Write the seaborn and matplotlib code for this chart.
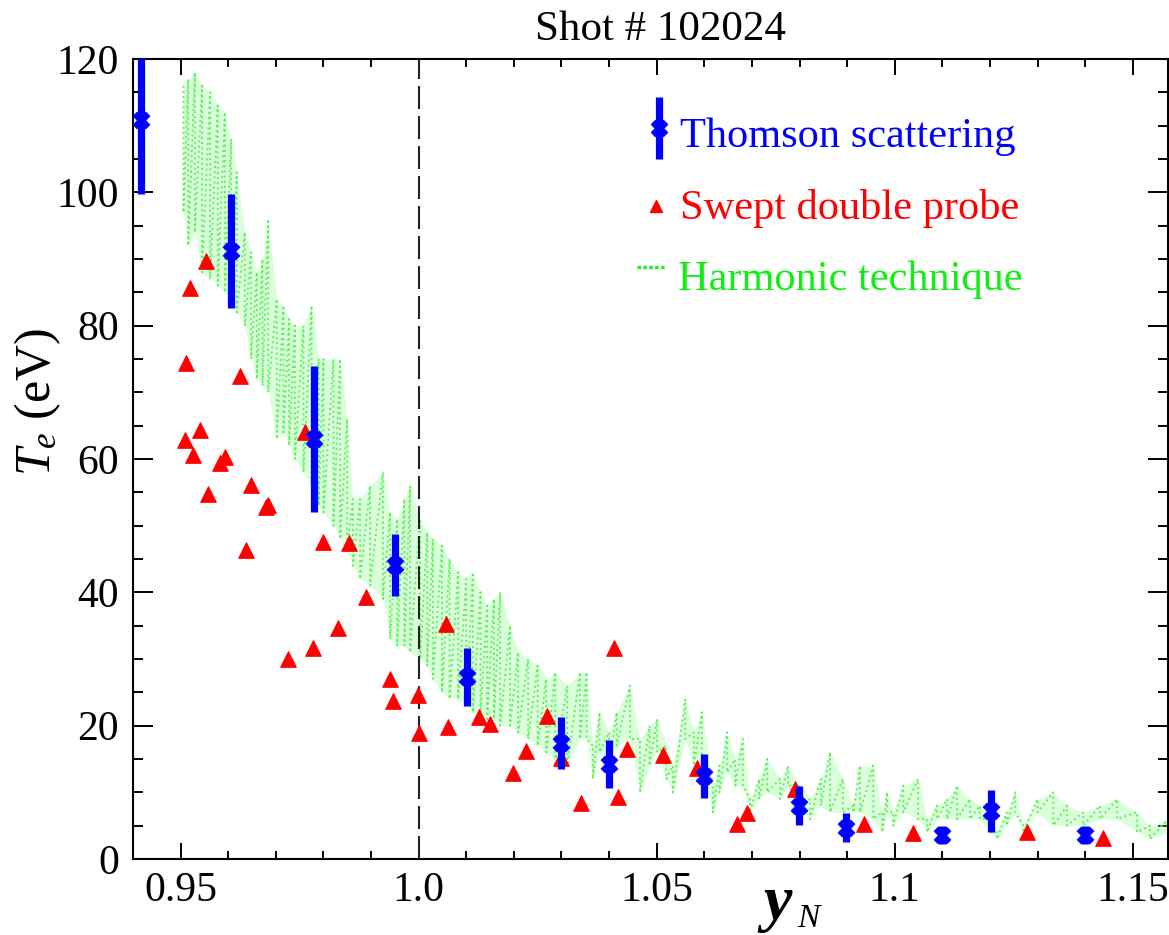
import numpy as np
import matplotlib
matplotlib.use("Agg")
import matplotlib.pyplot as plt
import seaborn as sns
from matplotlib.ticker import MultipleLocator, FixedLocator, FixedFormatter

# ---------------- data ----------------
# Thomson scattering
ts_x = [0.9417, 0.9606, 0.9780, 0.9950, 1.0102, 1.0300, 1.0400, 1.0600,
        1.0799, 1.0897, 1.1100, 1.1202, 1.1400]
ts_y = [110.9, 91.2, 63.0, 44.1, 27.3, 17.4, 14.2, 12.4, 8.0, 4.7, 3.6, 7.2, 3.6]
ts_err = [11.2, 8.6, 11.0, 4.7, 4.3, 3.9, 3.6, 3.3, 2.9, 2.2, 1.3, 3.1, 1.4]

# Swept double probe
sdp_x = [0.9509, 0.9511, 0.9520, 0.9526, 0.9541, 0.9553, 0.9558, 0.9583, 0.9593,
         0.9625, 0.9637, 0.9648, 0.9679, 0.9684, 0.9726, 0.9761, 0.9778, 0.9799,
         0.9831, 0.9854, 0.9889, 0.9940, 0.9946, 0.9999, 1.0001, 1.0058, 1.0062,
         1.0127, 1.0150, 1.0198, 1.0226, 1.0269, 1.0299, 1.0341, 1.0411, 1.0419,
         1.0438, 1.0513, 1.0585, 1.0669, 1.0690, 1.0791, 1.0936, 1.1039, 1.1278,
         1.1438]
sdp_y = [62.8, 74.4, 85.6, 60.6, 64.3, 89.7, 54.7, 59.4, 60.3,
         72.4, 46.3, 56.1, 52.8, 53.1, 30.0, 64.0, 31.6, 47.5,
         34.7, 47.4, 39.3, 27.0, 23.7, 24.6, 18.9, 35.2, 19.8,
         21.3, 20.2, 12.9, 16.2, 21.4, 15.1, 8.4, 31.6, 9.3,
         16.5, 15.6, 13.6, 5.2, 6.9, 10.5, 5.25, 3.9, 4.05,
         3.15]

# Harmonic technique: trace read as upper / lower excursions at positions
harm_x = [0.9506, 0.9516, 0.9530, 0.9545, 0.9562, 0.9578, 0.9593, 0.9606, 0.9618,
          0.9635, 0.9648, 0.9660, 0.9672, 0.9684, 0.9702, 0.9716, 0.9728, 0.9740,
          0.9758, 0.9775, 0.9790, 0.9800, 0.9821, 0.9835, 0.9850, 0.9862, 0.9877,
          0.9898, 0.9925, 0.9940, 0.9955, 0.9970, 0.9982, 1.0003, 1.0018, 1.0030,
          1.0049, 1.0065, 1.0083, 1.0100, 1.0114, 1.0130, 1.0144, 1.0158, 1.0171,
          1.0192, 1.0209, 1.0230, 1.0250, 1.0268, 1.0287, 1.0312, 1.0339, 1.0353,
          1.0366, 1.0380, 1.0400, 1.0416, 1.0444, 1.0465, 1.0485, 1.0501, 1.0520,
          1.0534, 1.0560, 1.0578, 1.0595, 1.0618, 1.0632, 1.0648, 1.0665, 1.0681,
          1.0696, 1.0715, 1.0732, 1.0759, 1.0776, 1.0800, 1.0822, 1.0845, 1.0864,
          1.0891, 1.0913, 1.0927, 1.0955, 1.0974, 1.0984, 1.0997, 1.1018, 1.1049,
          1.1068, 1.1089, 1.1110, 1.1131, 1.1158, 1.1179, 1.1200, 1.1215, 1.1235,
          1.1253, 1.1270, 1.1300, 1.1333, 1.1362, 1.1396, 1.1431, 1.1467, 1.1509,
          1.1536, 1.1574]
harm_hi = [116, 117, 118, 116, 115, 113, 112, 108, 103,
           94, 91, 88, 90, 96, 84, 83, 81, 80,
           80, 83, 75, 75, 75, 75, 66, 54, 54,
           56, 58, 52, 51, 54, 56, 51, 49, 48,
           47, 45, 43, 42, 43, 40, 38, 39, 40,
           35, 31, 30, 29, 27, 28, 26, 28, 28,
           17, 22, 19, 22, 26, 18, 20, 21, 17,
           14, 24, 19, 22, 11, 14, 19, 15, 18,
           9, 12, 15, 12, 14, 11, 9, 12, 16,
           12, 8, 14, 14, 7, 10, 7, 11, 12,
           6, 8, 9, 11, 9, 8, 6, 4, 7,
           10, 5, 9, 10, 8, 7, 8, 9, 7,
           5, 6]
harm_lo = [97, 92, 94, 88, 87, 86, 85, 84, 82,
           80, 75, 72, 71, 70, 63, 64, 62, 60,
           58, 56, 53, 52, 50, 48, 46, 44, 42,
           41, 39, 33, 32, 32, 31, 30, 29, 27,
           25, 24, 24, 23, 22, 22, 21, 21, 20,
           20, 19, 18, 17, 16, 15, 14, 18, 18,
           12, 16, 14, 17, 18, 10, 14, 16, 12,
           10, 18, 14, 15, 7, 10, 13, 11, 11,
           7, 9, 10, 9, 11, 8, 6, 8, 7,
           7, 7, 7, 6, 4, 7, 5, 7, 6,
           4, 6, 6, 6, 6, 6, 4, 3, 5,
           7, 4, 7, 5, 5, 5, 6, 6, 4,
           3, 4]

x_ticks = [0.95, 1.0, 1.05, 1.1, 1.15]
x_tick_labels = ["0.95", "1.0", "1.05", "1.1", "1.15"]
y_ticks = [0, 20, 40, 60, 80, 100, 120]
title_text = "Shot # 102024"
legend_labels = ["Thomson scattering", "Swept double probe", "Harmonic technique"]

# ---------------- style ----------------
sns.set_theme(style="ticks")
plt.rcParams["font.family"] = ["Liberation Serif", "DejaVu Serif"]
plt.rcParams["mathtext.fontset"] = "custom"
plt.rcParams["mathtext.rm"] = "Liberation Serif"
plt.rcParams["mathtext.it"] = "Liberation Serif:italic"
plt.rcParams["mathtext.bf"] = "Liberation Serif:bold"

W, H = 1169, 935
fig = plt.figure(figsize=(W / 100, H / 100), dpi=100)
fig.patch.set_facecolor("white")
ax = fig.add_axes([133 / W, (H - 859) / H, 1035 / W, 800 / H])
ax.set_facecolor("white")

# harmonic technique band + dotted trace
ax.fill_between(harm_x, harm_lo, harm_hi, color="#8cff8c", alpha=0.32, lw=0, zorder=1)
zig_x = np.repeat(harm_x, 2)
zig_y = np.column_stack([harm_hi, harm_lo]).ravel()
sns.lineplot(x=zig_x, y=zig_y, sort=False, estimator=None, color="#5af05a",
             lw=1.4, linestyle=":", ax=ax, zorder=2)

# separatrix
ax.axvline(1.0, color="#222222", lw=1.5, dashes=(11, 3.4), zorder=3)

# swept double probe
sns.scatterplot(x=sdp_x, y=sdp_y, marker="^", s=125, color="red",
                edgecolor="red", linewidth=0.8, ax=ax, zorder=4)

# Thomson scattering
ax.errorbar(ts_x, ts_y, yerr=ts_err, fmt="none", ecolor="blue", elinewidth=5.2,
            capsize=0, zorder=5)
sns.scatterplot(x=ts_x, y=ts_y, marker="X", s=150, color="blue",
                edgecolor="blue", linewidth=0.5, ax=ax, zorder=6)

# axes
ax.set_xlim(0.94, 1.1574)
ax.set_ylim(0, 120)
ax.xaxis.set_major_locator(FixedLocator(x_ticks))
ax.xaxis.set_major_formatter(FixedFormatter(x_tick_labels))
ax.xaxis.set_minor_locator(MultipleLocator(0.01))
ax.yaxis.set_major_locator(FixedLocator(y_ticks))
ax.yaxis.set_minor_locator(MultipleLocator(5))
ax.tick_params(which="both", direction="in", top=True, right=True, width=1.4,
               color="black", labelcolor="black", labelsize=30)
ax.tick_params(axis="x", which="major", length=11.5, pad=9)
ax.tick_params(axis="x", which="minor", length=5.5)
ax.tick_params(axis="y", which="major", length=14.5, pad=10)
ax.tick_params(axis="y", which="minor", length=7)
for s in ax.spines.values():
    s.set_color("black")
    s.set_linewidth(1.5)
ax.set_xlabel("")
ax.set_ylabel("")

# title and axis labels
fig.text(660 / W, 1 - 30 / H, title_text, ha="center", va="center", fontsize=31,
         color="black")
fig.text(38 / W, 1 - 402 / H, r"$T_e$ (eV)", rotation=90, ha="center", va="center",
         fontsize=36, color="black")
fig.text(763 / W, 1 - 919 / H, "y", fontsize=46, fontweight="bold", fontstyle="italic",
         ha="left", va="baseline", color="black")
fig.text(797 / W, 1 - 927 / H, "N", fontsize=24, fontstyle="italic",
         ha="left", va="baseline", color="black")

# legend (drawn manually)
def axfrac(px, py):
    return (px - 133) / 1035, (859 - py) / 800

x0, y0 = axfrac(659, 97)
_, y1 = axfrac(659, 159)
_, ym = axfrac(659, 128)
ax.plot([x0, x0], [y0, y1], transform=ax.transAxes, color="blue", lw=5.2,
        solid_capstyle="butt", clip_on=False, zorder=7)
ax.plot([x0], [ym], transform=ax.transAxes, marker="X", ms=12, color="blue",
        mec="blue", clip_on=False, zorder=8)
tx, ty = axfrac(680, 137)
ax.text(tx, ty, legend_labels[0], transform=ax.transAxes, color="blue", fontsize=30.5,
        ha="left", va="center")

px_, py_ = axfrac(656, 206)
ax.plot([px_], [py_], transform=ax.transAxes, marker="^", ms=8, color="red",
        mec="red", clip_on=False, zorder=8)
tx, ty = axfrac(680, 209)
ax.text(tx, ty, legend_labels[1], transform=ax.transAxes, color="red", fontsize=30.5,
        ha="left", va="center")

gx0, gy = axfrac(637, 267)
gx1, _ = axfrac(666, 267)
ax.plot([gx0, gx1], [gy, gy], transform=ax.transAxes, color="#22ee22", lw=2.5,
        linestyle=(0, (1, 0.7)), clip_on=False, zorder=8)
tx, ty = axfrac(678, 280)
ax.text(tx, ty, legend_labels[2], transform=ax.transAxes, color="#11ee11", fontsize=30.5,
        ha="left", va="center")

fig.savefig("out.png", dpi=100, facecolor="white")
